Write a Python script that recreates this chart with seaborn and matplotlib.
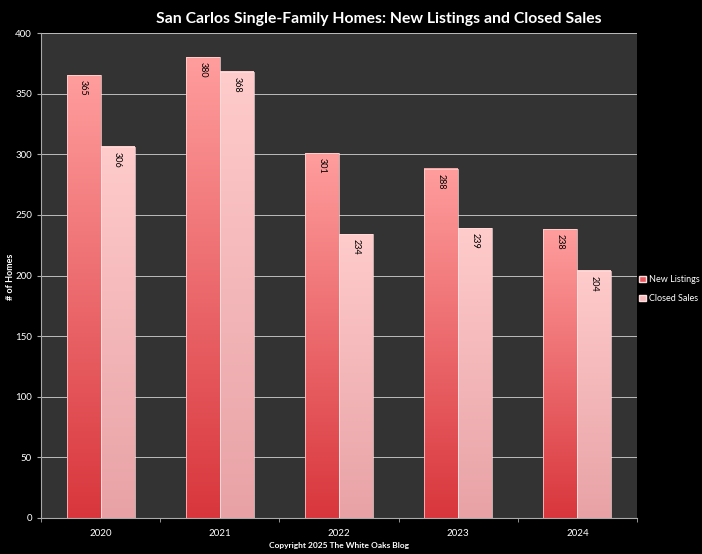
import numpy as np
import pandas as pd
import matplotlib
matplotlib.use("Agg")
import matplotlib.pyplot as plt
import matplotlib.patches as mpatches
from matplotlib.colors import LinearSegmentedColormap
import seaborn as sns

# data
years = ["2020", "2021", "2022", "2023", "2024"]
new_listings = [365, 380, 301, 288, 238]
closed_sales = [306, 368, 234, 239, 204]
series_names = ["New Listings", "Closed Sales"]

df = pd.DataFrame({
    "year": years * 2,
    "homes": new_listings + closed_sales,
    "series": [series_names[0]] * len(years) + [series_names[1]] * len(years),
})

# gradient (bottom, top) per series
grad = {
    "New Listings": ("#d8363c", "#ff9d9d"),
    "Closed Sales": ("#e8a2a6", "#ffcbcb"),
}

sns.set_style("dark")
plt.rcParams["font.family"] = ["Lato", "DejaVu Sans"]

fig = plt.figure(figsize=(7.02, 5.54), dpi=100, facecolor="black")
ax = fig.add_axes([0.0584, 0.065, 0.849, 0.8754])
ax.set_facecolor("#333333")

sns.barplot(data=df, x="year", y="homes", hue="series", order=years,
            hue_order=series_names, width=0.57, palette=["#f06060", "#f8b8b8"],
            legend=False, ax=ax, zorder=3)

# replace flat fills with vertical gradients
for i, name in enumerate(series_names):
    cmap = LinearSegmentedColormap.from_list(name, grad[name])
    vals = new_listings if i == 0 else closed_sales
    for j, bar in enumerate(ax.patches[i * len(years):(i + 1) * len(years)]):
        x0, w, h = bar.get_x(), bar.get_width(), bar.get_height()
        bar.set_facecolor("none")
        bar.set_edgecolor("#ffdede")
        bar.set_linewidth(0.5)
        g = np.linspace(0, 1, 256).reshape(-1, 1)
        ax.imshow(g, cmap=cmap, origin="lower", aspect="auto",
                  extent=(x0, x0 + w, 0, h), zorder=2)
        ax.text(x0 + w / 2, h - 4, str(vals[j]), rotation=270, ha="center", va="top",
                fontsize=6.5, color="black", zorder=5)
ax.set_xlim(-0.5, len(years) - 0.5)
ax.set_ylim(0, 400)

ax.set_yticks(range(0, 401, 50))
ax.yaxis.grid(True, color="#bdbdbd", linewidth=0.7, zorder=1)
ax.xaxis.grid(False)
ax.set_axisbelow(True)
ax.tick_params(axis="y", colors="#aaaaaa", labelcolor="white", labelsize=7, length=3, direction="out", left=True)
ax.set_xticks(range(len(years)))
ax.set_xticklabels(years)
ax.set_xticks(np.arange(-0.5, len(years), 1), minor=True)
ax.tick_params(axis="x", which="major", length=0, labelcolor="white", labelsize=7, pad=8)
ax.tick_params(axis="x", which="minor", length=3, color="#aaaaaa", bottom=True)

for s in ["top", "right"]:
    ax.spines[s].set_visible(False)
for s in ["left", "bottom"]:
    ax.spines[s].set_visible(True)
    ax.spines[s].set_color("#aaaaaa")
    ax.spines[s].set_linewidth(0.8)

ax.set_xlabel("")
ax.set_ylabel("")
fig.text(0.015, 0.5, "# of Homes", rotation=90, ha="center", va="center",
         color="white", fontsize=6.5, fontweight="bold")

fig.text(0.54, 0.966, "San Carlos Single-Family Homes: New Listings and Closed Sales",
         ha="center", va="center", color="white", fontsize=11.3, fontweight="bold")
fig.text(0.483, 0.016, "Copyright 2025 The White Oaks Blog",
         ha="center", va="center", color="white", fontsize=6, fontweight="bold")

handles = [mpatches.Patch(facecolor="#e8585e", edgecolor="#ffdede", label=series_names[0]),
           mpatches.Patch(facecolor="#f7b8bb", edgecolor="#ffdede", label=series_names[1])]
leg = fig.legend(handles=handles, loc="center left", bbox_to_anchor=(0.908, 0.478),
                 frameon=False, fontsize=6.5, labelcolor="white", handlelength=0.7,
                 handleheight=0.7, handletextpad=0.4, labelspacing=1.1,
                 borderaxespad=0, borderpad=0.2)

fig.savefig("out.png", dpi=100, facecolor="black")
